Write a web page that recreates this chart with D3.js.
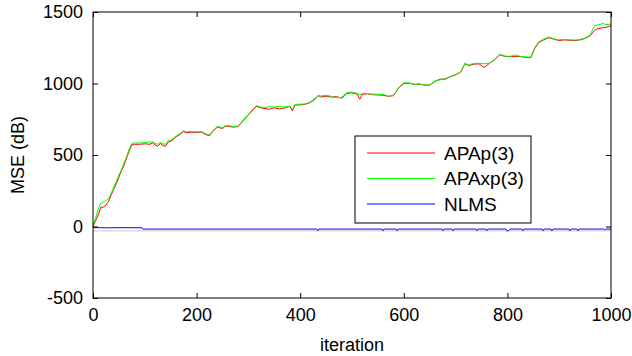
<!DOCTYPE html>
<html>
<head>
<meta charset="utf-8">
<script src="https://cdn.jsdelivr.net/npm/d3@7"></script>
<style>
  body { margin: 0; background: #fff; }
  text { font-family: "Liberation Sans", Arial, sans-serif; }
</style>
</head>
<body>
<div id="chart"></div>
<script>
// data
const apaIter = [0, 5, 10, 15, 20, 25, 30, 35, 40, 45, 50, 55, 60, 65, 70, 75, 80, 90, 100, 110, 115, 120, 125, 130, 135, 140, 145, 150, 160, 170, 175, 180, 190, 200, 210, 215, 220, 225, 230, 240, 250, 255, 260, 270, 280, 290, 300, 310, 315, 320, 330, 340, 350, 360, 370, 380, 385, 390, 400, 410, 420, 430, 435, 440, 450, 460, 470, 480, 490, 500, 510, 515, 520, 530, 540, 550, 560, 570, 580, 590, 600, 610, 620, 630, 640, 650, 660, 670, 680, 690, 700, 710, 718, 725, 735, 745, 755, 765, 775, 785, 795, 805, 815, 825, 835, 845, 852, 860, 870, 880, 890, 900, 910, 920, 930, 940, 950, 960, 968, 975, 985, 990, 1000];
const apap = [0, 40, 80, 135, 135, 150, 175, 220, 260, 300, 345, 390, 430, 480, 530, 570, 575, 575, 578, 575, 585, 570, 560, 580, 568, 560, 590, 595, 625, 650, 665, 655, 660, 658, 660, 648, 640, 635, 660, 695, 685, 700, 702, 695, 698, 740, 780, 820, 840, 835, 825, 820, 830, 822, 830, 840, 808, 850, 850, 855, 868, 895, 915, 905, 912, 905, 908, 897, 930, 935, 925, 890, 925, 928, 922, 920, 918, 910, 915, 970, 1000, 1002, 995, 995, 990, 988, 1015, 1030, 1030, 1048, 1060, 1080, 1138, 1125, 1135, 1138, 1112, 1140, 1165, 1200, 1190, 1187, 1190, 1188, 1183, 1180, 1240, 1285, 1305, 1320, 1310, 1300, 1305, 1302, 1300, 1305, 1315, 1335, 1370, 1385, 1390, 1392, 1405];
const apaxp = [0, 60, 120, 165, 170, 180, 195, 230, 275, 315, 360, 400, 445, 490, 545, 580, 585, 583, 588, 590, 592, 580, 575, 588, 578, 575, 600, 605, 632, 655, 670, 662, 665, 662, 664, 654, 645, 640, 665, 700, 690, 705, 706, 700, 702, 745, 785, 825, 845, 840, 830, 838, 835, 840, 835, 842, 820, 855, 855, 858, 872, 900, 918, 912, 918, 910, 900, 903, 935, 940, 930, 920, 930, 930, 925, 925, 924, 912, 918, 972, 1005, 1004, 992, 998, 988, 990, 1018, 1025, 1035, 1050, 1062, 1082, 1142, 1130, 1140, 1142, 1138, 1142, 1168, 1205, 1192, 1190, 1200, 1190, 1185, 1185, 1245, 1290, 1310, 1325, 1312, 1305, 1308, 1306, 1304, 1308, 1318, 1340, 1405, 1410, 1420, 1412, 1415];

const nlmsIter = [0, 30, 60, 95, 97, 100, 432, 434, 436, 558, 560, 562, 585, 587, 589, 674, 676, 678, 693, 695, 697, 739, 741, 743, 758, 760, 762, 797, 799, 802, 805, 807, 828, 830, 832, 867, 869, 871, 884, 886, 888, 919, 921, 923, 934, 936, 938, 986, 988, 990, 1000];
const nlms = [-8, -9, -8, -9, -20, -18, -18, -30, -18, -18, -30, -18, -18, -30, -18, -18, -30, -18, -18, -30, -18, -18, -30, -18, -18, -30, -18, -18, -30, -30, -18, -18, -18, -30, -18, -18, -30, -18, -18, -30, -18, -18, -30, -18, -18, -30, -18, -18, -25, -18, -18];
const refLevel = -31;

const xTicks = [0, 200, 400, 600, 800, 1000];
const yTicks = [-500, 0, 500, 1000, 1500];
const seriesNames = ["APAp(3)", "APAxp(3)", "NLMS"];
const seriesColors = ["#ff0000", "#00ff00", "#0000ff"];

const width = 632, height = 356;
const margin = { top: 12, right: 21, bottom: 58, left: 93 };
const innerW = width - margin.left - margin.right;
const innerH = height - margin.top - margin.bottom;

const svg = d3.select("#chart").append("svg")
    .attr("width", width)
    .attr("height", height);

const g = svg.append("g")
    .attr("transform", `translate(${margin.left}, ${margin.top})`);

const x = d3.scaleLinear().domain([0, 1000]).range([0, innerW]);
const y = d3.scaleLinear().domain([-500, 1500]).range([innerH, 0]);

// grey reference line
g.append("line")
    .attr("x1", x(0)).attr("x2", x(1000))
    .attr("y1", y(refLevel)).attr("y2", y(refLevel))
    .attr("stroke", "#c8c8c8")
    .attr("stroke-width", 1);

const line = d3.line()
    .x(d => x(d[0]))
    .y(d => y(d[1]));

const series = [
    d3.zip(apaIter, apap),
    d3.zip(apaIter, apaxp),
    d3.zip(nlmsIter, nlms)
];

series.forEach((s, i) => {
    g.append("path")
        .datum(s)
        .attr("fill", "none")
        .attr("stroke", seriesColors[i])
        .attr("stroke-width", 1)
        .attr("d", line);
});

// axes, ticks pointing inwards on all four sides
const tickLen = 5;
function styleAxis(sel) {
    sel.select(".domain").remove();
    sel.selectAll(".tick line").attr("stroke", "#000");
    sel.selectAll("text")
        .style("font-size", "18px")
        .style("font-family", "'Liberation Sans', Arial, sans-serif")
        .attr("fill", "#000");
}

g.append("g")
    .attr("transform", `translate(0, ${innerH})`)
    .call(d3.axisBottom(x).tickValues(xTicks).tickSizeInner(-tickLen).tickSizeOuter(0).tickPadding(10).tickFormat(String))
    .call(styleAxis);

g.append("g")
    .call(d3.axisTop(x).tickValues(xTicks).tickSizeInner(-tickLen).tickSizeOuter(0).tickFormat(""))
    .call(styleAxis);

g.append("g")
    .call(d3.axisLeft(y).tickValues(yTicks).tickSizeInner(-tickLen).tickSizeOuter(0).tickPadding(10).tickFormat(String))
    .call(styleAxis);

g.append("g")
    .attr("transform", `translate(${innerW}, 0)`)
    .call(d3.axisRight(y).tickValues(yTicks).tickSizeInner(-tickLen).tickSizeOuter(0).tickFormat(""))
    .call(styleAxis);

// frame
g.append("rect")
    .attr("width", innerW)
    .attr("height", innerH)
    .attr("fill", "none")
    .attr("stroke", "#000")
    .attr("stroke-width", 1);

// axis labels
svg.append("text")
    .attr("x", margin.left + innerW / 2)
    .attr("y", 351)
    .attr("text-anchor", "middle")
    .style("font-size", "18px")
    .text("iteration");

svg.append("text")
    .attr("transform", `translate(24, ${margin.top + innerH / 2}) rotate(-90)`)
    .attr("text-anchor", "middle")
    .style("font-size", "18px")
    .text("MSE (dB)");

// legend
const legend = svg.append("g").attr("transform", "translate(355, 136)");
legend.append("rect")
    .attr("width", 176)
    .attr("height", 87)
    .attr("fill", "#fff")
    .attr("stroke", "#000")
    .attr("stroke-width", 1);

seriesNames.forEach((name, i) => {
    const ly = 17 + i * 25.5;
    legend.append("line")
        .attr("x1", 12).attr("x2", 80)
        .attr("y1", ly).attr("y2", ly)
        .attr("stroke", seriesColors[i])
        .attr("stroke-width", 1);
    legend.append("text")
        .attr("x", 89)
        .attr("y", ly)
        .attr("dy", "0.35em")
        .style("font-size", "19px")
        .text(name);
});
</script>
</body>
</html>
